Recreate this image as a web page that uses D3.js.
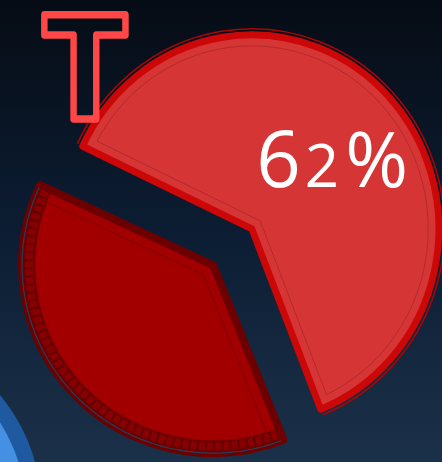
<!DOCTYPE html>
<html>
<head>
<meta charset="utf-8">
<script src="https://cdn.jsdelivr.net/npm/d3@7"></script>
<style>
  html, body { margin: 0; padding: 0; background: #0b1a2d; overflow: hidden; }
</style>
</head>
<body>
<script>
// values
var shares = [62, 38];
var shareLabels = ["62%", ""];
var titleLetter = "T";

var width = 442, height = 462;

var svg = d3.select("body").append("svg")
    .attr("width", width)
    .attr("height", height);

var defs = svg.append("defs");
var bg = defs.append("linearGradient")
    .attr("id", "bg")
    .attr("x1", 0).attr("y1", 0).attr("x2", 0).attr("y2", 1);
bg.append("stop").attr("offset", "0%").attr("stop-color", "#060c15");
bg.append("stop").attr("offset", "50%").attr("stop-color", "#0c1d33");
bg.append("stop").attr("offset", "100%").attr("stop-color", "#1b3149");

svg.append("rect")
    .attr("width", width)
    .attr("height", height)
    .attr("fill", "url(#bg)");

// blue disc peeking in at the bottom left
svg.append("circle").attr("cx", -142).attr("cy", 512).attr("r", 184).attr("fill", "#1f5aa0");
svg.append("circle").attr("cx", -142).attr("cy", 512).attr("r", 168).attr("fill", "#4590e2");

// pie
var deg = Math.PI / 180;
var start = -64.8 * deg;
var pie = d3.pie().sort(null).startAngle(start).endAngle(start + 2 * Math.PI);
var arcs = pie(shares);

var center = [232.5, 247];
var explode = 26.5;
var R = 194;

var looks = [
  {sx: 0.964, sy: 1.0, fill: "#d53535", band: "#cc0707", bandW: 7, inner: "#b32626", innerD: 11},
  {sx: 0.985, sy: 0.969, fill: "#a20000", band: "#6c0000", bandW: 8, inner: "#760000", innerD: 13}
];

var arc = d3.arc().innerRadius(0).outerRadius(R);

function insetPath(a0, a1, r, dlt) {
  var half = (a1 - a0) / 2, mid = (a0 + a1) / 2;
  var d = dlt / Math.sin(half);
  var ax = d * Math.sin(mid), ay = -d * Math.cos(mid);
  var rho = r - dlt;
  function hit(a) {
    var ex = Math.sin(a), ey = -Math.cos(a);
    var b = ax * ex + ay * ey, c = ax * ax + ay * ay - rho * rho;
    var t = -b + Math.sqrt(b * b - c);
    var x = ax + t * ex, y = ay + t * ey;
    return {x: x, y: y, ang: Math.atan2(x, -y)};
  }
  var q0 = hit(a0), q1 = hit(a1);
  var e1 = q1.ang;
  while (e1 < q0.ang) e1 += 2 * Math.PI;
  var p = d3.path();
  p.moveTo(ax, ay);
  p.lineTo(q0.x, q0.y);
  p.arc(0, 0, rho, q0.ang - Math.PI / 2, e1 - Math.PI / 2, false);
  p.closePath();
  return p.toString();
}

function vertexOf(d) {
  var mid = (d.startAngle + d.endAngle) / 2;
  return [center[0] + explode * Math.sin(mid), center[1] - explode * Math.cos(mid)];
}

// draw the small slice first so the big one sits on top
[1, 0].forEach(function(i) {
  var d = arcs[i], lk = looks[i], v = vertexOf(d);
  var g = svg.append("g")
      .attr("class", "slice")
      .attr("transform", "translate(" + v[0] + "," + v[1] + ") scale(" + lk.sx + "," + lk.sy + ")");

  if (i === 0) {
    // thin outer rim line
    g.append("path")
        .attr("d", d3.arc().innerRadius(R + 6).outerRadius(R + 6)(d))
        .attr("fill", "none")
        .attr("stroke", "#a80606")
        .attr("stroke-width", 1.6);
  }

  g.append("path")
      .attr("d", arc(d))
      .attr("fill", lk.fill)
      .attr("stroke", lk.band)
      .attr("stroke-width", lk.bandW)
      .attr("stroke-linejoin", "round");

  if (i === 1) {
    // lattice rim of the dark slice
    var rim = {startAngle: d.startAngle + 0.012, endAngle: d.endAngle - 0.012};
    g.append("path")
        .attr("d", d3.arc().innerRadius(R - 12).outerRadius(R - 3)(rim))
        .attr("fill", "#880000");
    g.append("path")
        .attr("d", d3.arc().innerRadius(R - 7.5).outerRadius(R - 7.5)(rim))
        .attr("fill", "none")
        .attr("stroke", "#640000")
        .attr("stroke-width", 9)
        .attr("stroke-dasharray", "1.8 6.5");
    g.append("path")
        .attr("d", d3.arc().innerRadius(R - 12).outerRadius(R - 12)(rim))
        .attr("fill", "none")
        .attr("stroke", "#660000")
        .attr("stroke-width", 1.6);
    g.append("path")
        .attr("d", d3.arc().innerRadius(R).outerRadius(R)(rim))
        .attr("fill", "none")
        .attr("stroke", "#2a3c58")
        .attr("stroke-width", 1.2)
        .attr("stroke-dasharray", "5 2.5");
  }

  g.append("path")
      .attr("d", insetPath(d.startAngle, d.endAngle, R, lk.innerD))
      .attr("fill", "none")
      .attr("stroke", lk.inner)
      .attr("stroke-width", 1)
      .attr("stroke-opacity", 0.9);
});

// percentage label
var labelArc = d3.arc().innerRadius(106).outerRadius(106);
arcs.forEach(function(d, i) {
  if (!shareLabels[i]) return;
  var v = vertexOf(d), c = labelArc.centroid(d);
  var txt = shareLabels[i];
  var t = svg.append("text")
      .attr("x", v[0] + c[0] + 3)
      .attr("y", v[1] + c[1] + 31)
      .attr("text-anchor", "middle")
      .attr("fill", "#ffffff")
      .style("font-family", "'Open Sans', 'Noto Sans', sans-serif")
      .style("font-weight", 400);
  t.append("tspan").style("font-size", "78px").text(txt.charAt(0));
  t.append("tspan").style("font-size", "60px").attr("dx", 4).text(txt.charAt(1));
  t.append("tspan").style("font-size", "76px").attr("dx", 6).text(txt.slice(2));
});

// outlined title letter
svg.append("text")
    .attr("transform", "translate(85,118.5) scale(0.85,1)")
    .attr("text-anchor", "middle")
    .attr("fill", "none")
    .attr("stroke", "#ff4747")
    .attr("stroke-width", 7.6)
    .attr("stroke-linejoin", "round")
    .style("font-family", "'DejaVu Sans', sans-serif")
    .style("font-weight", 700)
    .style("font-size", "142px")
    .text(titleLetter);
</script>
</body>
</html>
